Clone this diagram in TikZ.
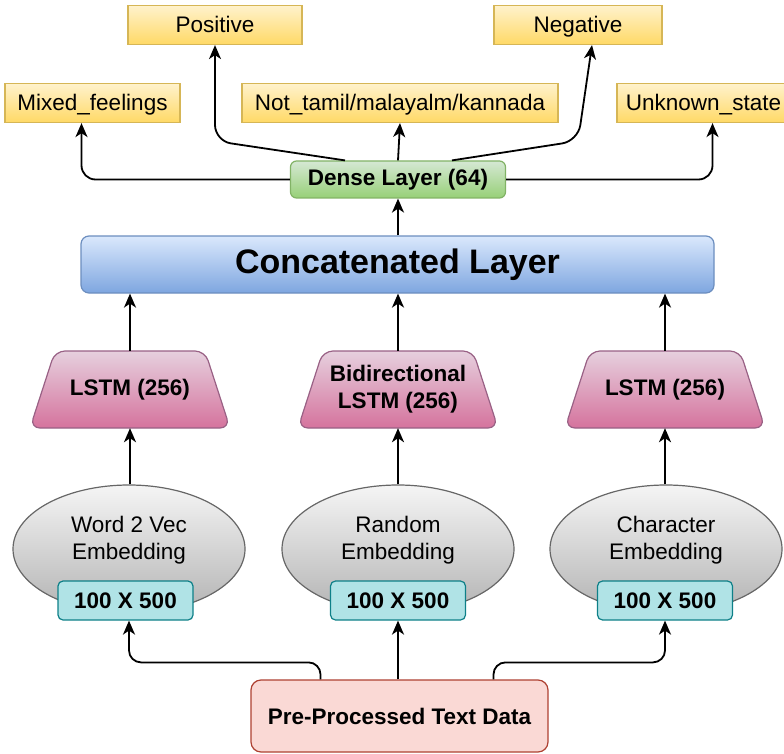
\documentclass[tikz,border=0pt]{standalone}
\usepackage{fontspec}
\setmainfont{Liberation Sans}
\usetikzlibrary{arrows.meta,calc,shapes.geometric}
\definecolor{yelT}{HTML}{FFF2CC}\definecolor{yelB}{HTML}{FFD966}\definecolor{yelS}{HTML}{D6B656}
\definecolor{grnT}{HTML}{D5E8D4}\definecolor{grnB}{HTML}{97D077}\definecolor{grnS}{HTML}{82B366}
\definecolor{bluT}{HTML}{DAE8FC}\definecolor{bluB}{HTML}{7EA6E0}\definecolor{bluS}{HTML}{6C8EBF}
\definecolor{pnkT}{HTML}{E6D0DE}\definecolor{pnkB}{HTML}{D5739D}\definecolor{pnkS}{HTML}{996185}
\definecolor{gryT}{HTML}{F5F5F5}\definecolor{gryB}{HTML}{B3B3B3}\definecolor{gryS}{HTML}{666666}
\definecolor{tealF}{HTML}{B0E3E6}\definecolor{tealS}{HTML}{0E8088}
\definecolor{redF}{HTML}{FAD9D5}\definecolor{redS}{HTML}{AE4132}
\begin{document}
\begin{tikzpicture}[x=1pt,y=-1pt,
  font=\fontsize{22.5}{26.5}\selectfont,
  outbox/.style={draw=yelS, top color=yelT, bottom color=yelB, line width=1.2pt, inner sep=0pt, minimum height=39pt, text height=16pt, text depth=0pt},
  arr/.style={-{Stealth[length=14pt,width=12pt,inset=4pt]}, line width=1.8pt},
  lstmfill/.style={draw=pnkS, top color=pnkT, bottom color=pnkB, line width=1.2pt, rounded corners=10pt},
  lstmnode/.style={minimum width=200pt, minimum height=77pt, inner sep=0pt, align=center, font=\fontsize{22.5}{27}\selectfont\bfseries},
  embnode/.style={ellipse, draw=gryS, top color=gryT, bottom color=gryB, line width=1.2pt, minimum width=232pt, minimum height=128pt, inner sep=0pt},
  dimbox/.style={draw=tealS, fill=tealF, line width=1.2pt, rounded corners=5pt, minimum width=135pt, minimum height=39pt, inner sep=0pt, font=\fontsize{22.5}{26.5}\selectfont\bfseries},
  txt/.style={align=center, inner sep=0pt}
]
\useasboundingbox (0,0) rectangle (784,754);

% output boxes
\node[outbox, minimum width=174pt] (pos) at (215,25) {Positive};
\node[outbox, minimum width=168pt] (neg) at (578,25) {Negative};
\node[outbox, minimum width=175pt] (mix) at (92.5,103) {Mixed\_feelings};
\node[outbox, minimum width=316pt] (not) at (400,103) {Not\_tamil/malayalm/kannada};
\node[outbox, minimum width=173pt] (unk) at (703.5,103) {Unknown\_state};

% dense
\node[draw=grnS, top color=grnT, bottom color=grnB, line width=1.2pt, rounded corners=6pt,
      minimum width=215pt, minimum height=37pt, inner sep=0pt, font=\fontsize{22.5}{26.5}\selectfont\bfseries]
      (dense) at (398,179.5) {Dense Layer (64)};

% concatenated
\node[draw=bluS, top color=bluT, bottom color=bluB, line width=1.2pt, rounded corners=8pt,
      minimum width=633pt, minimum height=57pt, inner sep=0pt, font=\fontsize{34}{40}\selectfont\bfseries]
      (concat) at (397.5,264.5) {Concatenated Layer};

% LSTM trapezoids
\foreach \cx in {130, 398, 665}{
  \path[lstmfill] (\cx-100,428) -- (\cx-75,351) -- (\cx+75,351) -- (\cx+100,428) -- cycle;
}
\node[lstmnode] (l1) at (130,389.5) {LSTM (256)};
\node[lstmnode] (l2) at (398,389.5) {Bidirectional\\LSTM (256)};
\node[lstmnode] (l3) at (665,389.5) {LSTM (256)};

% embeddings
\node[embnode] (e1) at (129,549) {};
\node[embnode] (e2) at (398,549) {};
\node[embnode] (e3) at (666,549) {};
\node[txt] (t1) at (129,540) {Word 2 Vec\\Embedding};
\node[txt] (t2) at (398,540) {Random\\Embedding};
\node[txt] (t3) at (666,540) {Character\\Embedding};
\node[dimbox] (d1) at (125.5,600.5) {100 X 500};
\node[dimbox] (d2) at (398,600.5) {100 X 500};
\node[dimbox] (d3) at (665,600.5) {100 X 500};

% input
\node[draw=redS, fill=redF, line width=1.2pt, rounded corners=10pt, minimum width=297pt, minimum height=72pt,
      inner sep=0pt, font=\fontsize{22.5}{26.5}\selectfont\bfseries] (pre) at (399.5,716) {Pre-Processed Text Data};

% connectors bottom
\draw[arr, rounded corners=12pt] ([xshift=-79pt]pre.north) -- ++(0,-17) -| ([xshift=3.5pt]d1.south);
\draw[arr] (pre.north -| d2.south) -- (d2.south);
\draw[arr, rounded corners=12pt] ([xshift=94pt]pre.north) -- ++(0,-17) -| (d3.south);

\foreach \i in {1,2,3}{
  \draw[arr] (e\i.north -| l\i.south) -- (l\i.south);
  \draw[arr] (l\i.north) -- (l\i.north |- concat.south);
}
\draw[arr] (concat.north -| dense.south) -- (dense.south);

% dense to outputs
\coordinate (kp) at (0,141);
\draw[arr, rounded corners=14pt] (dense.west) -| ([xshift=-11pt]mix.south);
\draw[arr, rounded corners=14pt] (dense.east) -| ([xshift=9pt]unk.south);
\draw[arr] (dense.north) -- (not.south);
\draw[arr, rounded corners=16pt] ([xshift=-53pt]dense.north) -- (pos.south |- kp) -- (pos.south);
\draw[arr, rounded corners=16pt] ([xshift=54pt]dense.north) -- (neg.south |- kp) -- ([xshift=14pt]neg.south);
\end{tikzpicture}
\end{document}
